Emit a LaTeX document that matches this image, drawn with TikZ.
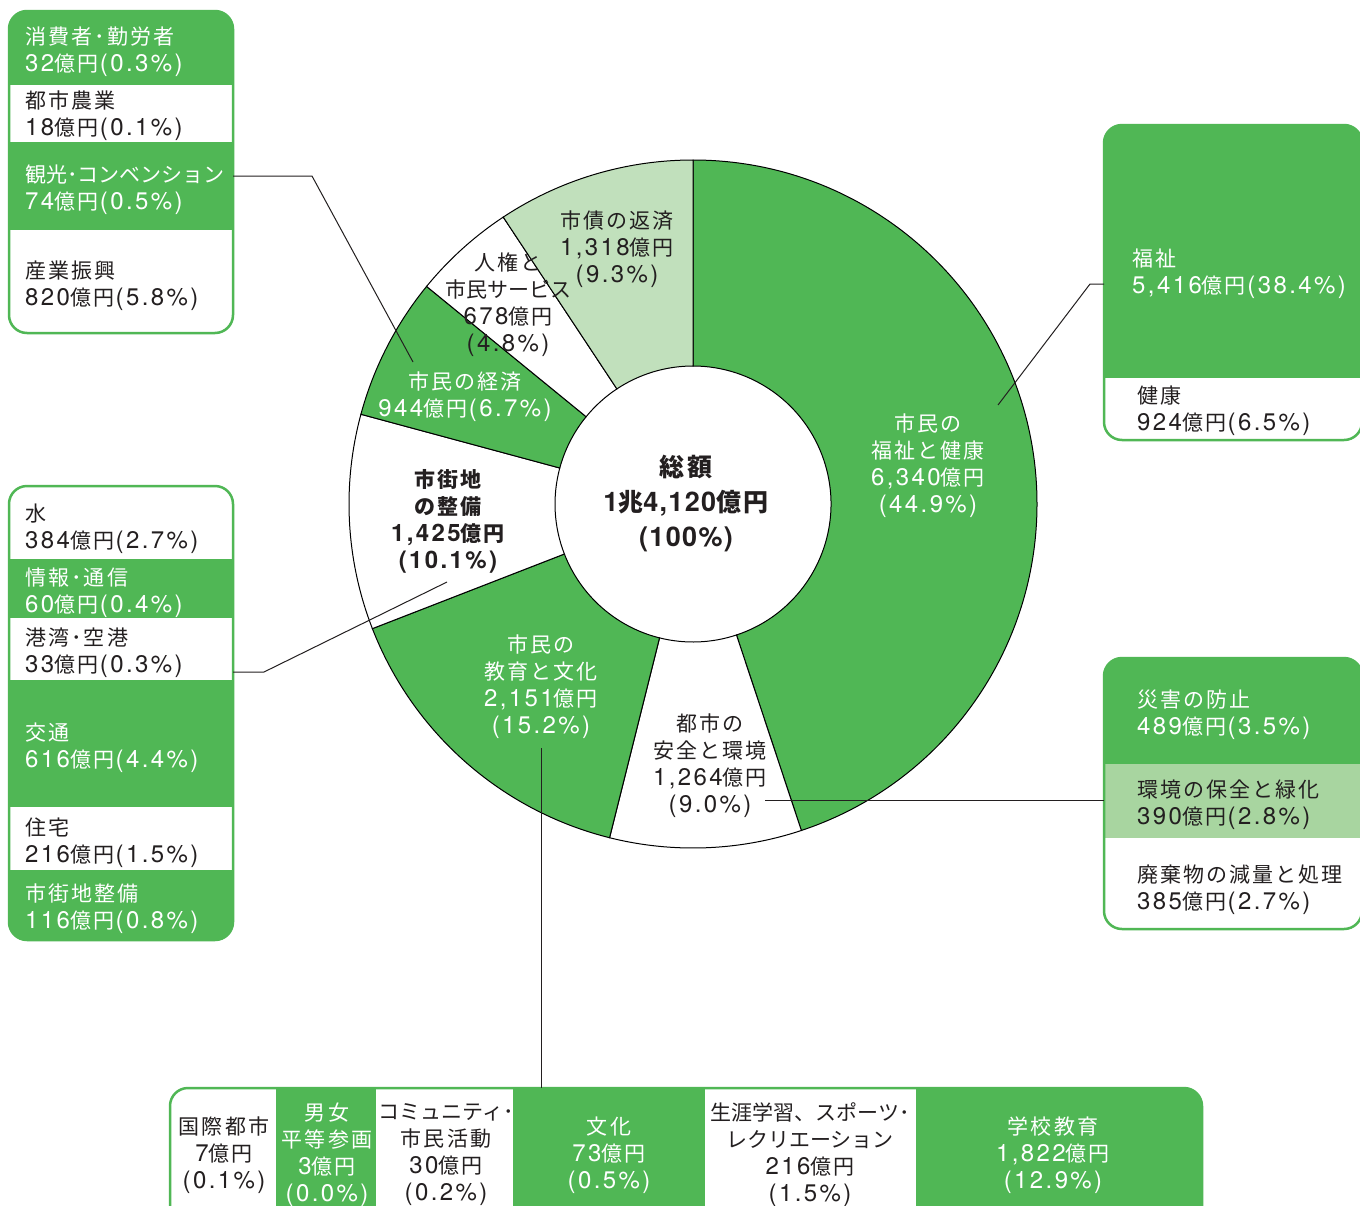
\documentclass[tikz,border=0pt]{standalone}
\usepackage{fontspec}
\setmainfont{Noto Sans CJK JP}[LetterSpace=10]
\newfontfamily\plainfont{Noto Sans CJK JP}
\newfontfamily\latinfont{TeX Gyre Heros}[LetterSpace=10]
\newfontfamily\latinbig{TeX Gyre Heros}[LetterSpace=5]
\newcommand\nm[1]{{\latinfont\fontsize{24}{27}\selectfont #1}}
\newcommand\pc[1]{{\latinfont\fontsize{24}{27}\selectfont\kern1.5pt(#1\%)}}
\newcommand\nmb[1]{{\latinfont\bfseries\fontsize{24}{27}\selectfont #1}}
\newcommand\nmt[1]{{\latinbig\bfseries\fontsize{27}{35}\selectfont #1}}
\newcommand\pl[1]{{\plainfont #1}}
\definecolor{mygreen}{RGB}{80,183,85}
\definecolor{debtgreen}{RGB}{193,224,188}
\definecolor{envgreen}{RGB}{168,213,160}
\definecolor{ink}{RGB}{35,31,32}
\begin{document}
\begin{tikzpicture}[x=1pt,y=-1pt,
  every node/.style={inner sep=0pt, font=\fontsize{21}{27}\selectfont},
  wtxt/.style={text=white, align=left, anchor=west, yshift=-2.5pt},
  dtxt/.style={text=ink, align=left, anchor=west, yshift=-2.5pt},
  wc/.style={text=white, align=center, yshift=-2.5pt},
  dc/.style={text=ink, align=center, yshift=-2.5pt},
  totalstyle/.style={text=ink, align=center, font=\fontsize{25}{35}\selectfont\bfseries},
  boxline/.style={draw=mygreen, line width=2.5pt, rounded corners=18pt},
  conn/.style={draw=ink, line width=1pt},
  slice/.style={draw=black, line width=1pt}]
\clip (0,0) rectangle (1360,1205);
\fill[white] (0,0) rectangle (1360,1205);

% ---------- donut ----------
\begin{scope}[shift={(693,504)}]
\foreach \a/\b/\c in {-90/71.64/mygreen, 71.64/104.04/white, 104.04/158.76/mygreen, 158.76/195.12/white, 195.12/219.24/mygreen, 219.24/236.52/white, 236.52/270/debtgreen}
  \filldraw[slice, fill=\c] (\a:138) -- (\a:344) arc[start angle=\a, end angle=\b, radius=344] -- (\b:138) arc[start angle=\b, end angle=\a, radius=138] -- cycle;
\end{scope}

% slice labels
\node[wc] (welfare) at (928,463.5) {市民の\\福祉と健康\\\nm{6,340}億円\\\nm{(44.9\%)}};
\node[dc] (safety) at (710,763) {都市の\\安全と環境\\\nm{1,264}億円\\\nm{(9.0\%)}};
\node[wc] (educ) at (541,684) {市民の\\教育と文化\\\nm{2,151}億円\\\nm{(15.2\%)}};
\node[dc, font=\fontsize{21}{27}\selectfont\bfseries] (urban) at (448,518.5) {市街地\\の整備\\\nmb{1,425}億円\\\nmb{(10.1\%)}};
\node[wc] (econ) at (465,394) {市民の経済\\\nm{944}億円\pc{6.7}};
\node[dc] (rights) at (508,302.5) {人権と\\\pl{市民サービス}\\\nm{678}億円\\\nm{(4.8\%)}};
\node[dc] (debt) at (617,246.5) {市債の返済\\\nm{1,318}億円\\\nm{(9.3\%)}};
\node[totalstyle] (total) at (686,503) {総額\\\nmt{1}兆\nmt{4,120}億円\\\nmt{(100\%)}};

% ---------- left top box ----------
\begin{scope}
\clip[rounded corners=18pt] (9,11) rectangle (233,333);
\fill[mygreen] (9,11) rectangle (233,85);
\fill[mygreen] (9,142) rectangle (233,230);
\end{scope}
\path[boxline] (9,11) rectangle (233,333);
\node[wtxt] (consumer) at (25,49) {消費者･勤労者\\\nm{32}億円\pc{0.3}};
\node[dtxt] (agri) at (25,113.5) {都市農業\\\nm{18}億円\pc{0.1}};
\node[wtxt] (tourism) at (25,187) {\pl{観光･コンベンション}\\\nm{74}億円\pc{0.5}};
\node[dtxt] (industry) at (25,283) {産業振興\\\nm{820}億円\pc{5.8}};

% ---------- left middle box ----------
\begin{scope}
\clip[rounded corners=18pt] (9,486) rectangle (233,940);
\fill[mygreen] (9,559) rectangle (233,618);
\fill[mygreen] (9,680) rectangle (233,807);
\fill[mygreen] (9,870) rectangle (233,940);
\end{scope}
\path[boxline] (9,486) rectangle (233,940);
\node[dtxt] (water) at (25,526.5) {水\\\nm{384}億円\pc{2.7}};
\node[wtxt] (info) at (25,590) {情報･通信\\\nm{60}億円\pc{0.4}};
\node[dtxt] (port) at (25,650.5) {港湾･空港\\\nm{33}億円\pc{0.3}};
\node[wtxt] (traffic) at (25,745) {交通\\\nm{616}億円\pc{4.4}};
\node[dtxt] (housing) at (25,840) {住宅\\\nm{216}億円\pc{1.5}};
\node[wtxt] (city) at (25,906) {市街地整備\\\nm{116}億円\pc{0.8}};

% ---------- right top box ----------
\begin{scope}
\clip[rounded corners=18pt] (1104,125) rectangle (1362,440);
\fill[mygreen] (1104,125) rectangle (1362,378);
\end{scope}
\path[boxline] (1104,125) rectangle (1362,440);
\node[wtxt] (fukushi) at (1132,271) {福祉\\\nm{5,416}億円\pc{38.4}};
\node[dtxt] (health) at (1137,408.5) {健康\\\nm{924}億円\pc{6.5}};

% ---------- right bottom box ----------
\begin{scope}
\clip[rounded corners=18pt] (1104,658) rectangle (1362,929);
\fill[mygreen] (1104,658) rectangle (1362,764);
\fill[envgreen] (1104,764) rectangle (1362,838);
\end{scope}
\path[boxline] (1104,658) rectangle (1362,929);
\node[wtxt] (disaster) at (1137,712.5) {災害の防止\\\nm{489}億円\pc{3.5}};
\node[dtxt] (env) at (1137,802.5) {環境の保全と緑化\\\nm{390}億円\pc{2.8}};
\node[dtxt] (waste) at (1137,887.5) {廃棄物の減量と処理\\\nm{385}億円\pc{2.7}};

% ---------- bottom box ----------
\begin{scope}
\clip[rounded corners=18pt] (170,1088) rectangle (1202,1240);
\fill[mygreen] (276,1088) rectangle (376,1240);
\fill[mygreen] (513,1088) rectangle (705,1240);
\fill[mygreen] (916,1088) rectangle (1202,1240);
\end{scope}
\path[boxline] (170,1088) rectangle (1202,1240);
\node[dc] (intl) at (224,1153) {国際都市\\\nm{7}億円\\\nm{(0.1\%)}};
\node[wc] (gender) at (327,1152) {男女\\平等参画\\\nm{3}億円\\\nm{(0.0\%)}};
\node[dc] (community) at (446,1152) {\pl{コミュニティ･}\\市民活動\\\nm{30}億円\\\nm{(0.2\%)}};
\node[wc] (culture) at (609,1153) {文化\\\nm{73}億円\\\nm{(0.5\%)}};
\node[dc] (lifelong) at (810,1152) {\pl{生涯学習、スポーツ･}\\\pl{レクリエーション}\\\nm{216}億円\\\nm{(1.5\%)}};
\node[wc] (school) at (1053,1153) {学校教育\\\nm{1,822}億円\\\nm{(12.9\%)}};

% ---------- connectors ----------
\coordinate (t1) at (233,176);
\coordinate (t1b) at (312,176);
\coordinate (t1e) at (413,362);
\draw[conn] (t1) -- (t1b) -- (t1e);
\coordinate (m1) at (233,672);
\coordinate (m1b) at (264,672);
\coordinate (m1e) at (447,582);
\draw[conn] (m1) -- (m1b) -- (m1e);
\coordinate (r1) at (1104,284);
\coordinate (r1b) at (1090,284);
\coordinate (r1e) at (998,405);
\draw[conn] (r1) -- (r1b) -- (r1e);
\coordinate (r2) at (1104,800);
\coordinate (r2e) at (765,800);
\draw[conn] (r2) -- (r2e);
\coordinate (b1) at (541,748);
\coordinate (b1e) at (541,1088);
\draw[conn] (b1) -- (b1e);
\end{tikzpicture}
\end{document}
